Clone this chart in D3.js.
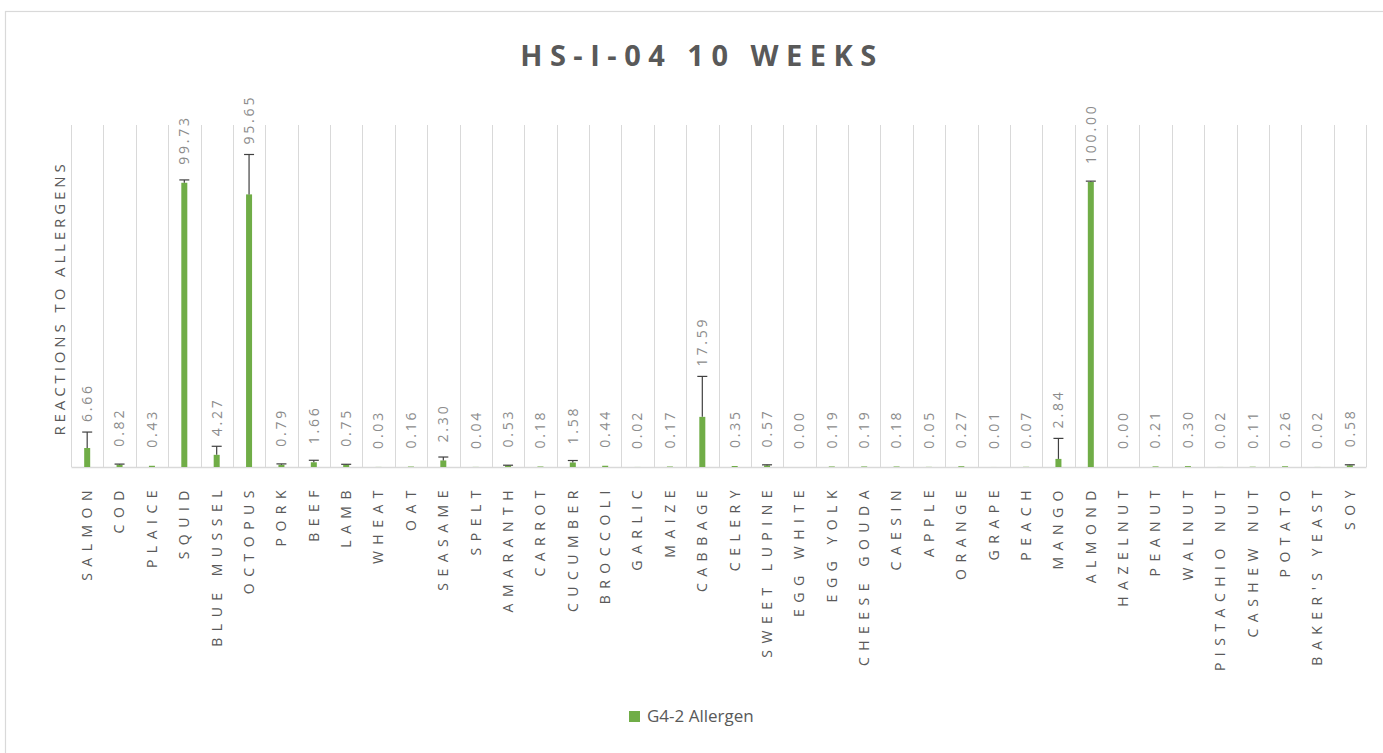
<!DOCTYPE html>
<html>
<head>
<meta charset="utf-8">
<script src="https://cdn.jsdelivr.net/npm/d3@7"></script>
<style>
  html, body { margin: 0; padding: 0; background: #ffffff; }
  svg { display: block; }
</style>
</head>
<body>
<svg id="chart" width="1383" height="753"></svg>
<script>
// ---- data ----
const categories = ["SALMON","COD","PLAICE","SQUID","BLUE MUSSEL","OCTOPUS","PORK","BEEF","LAMB","WHEAT","OAT","SEASAME","SPELT","AMARANTH","CARROT","CUCUMBER","BROCCOLI","GARLIC","MAIZE","CABBAGE","CELERY","SWEET LUPINE","EGG WHITE","EGG YOLK","CHEESE GOUDA","CAESIN","APPLE","ORANGE","GRAPE","PEACH","MANGO","ALMOND","HAZELNUT","PEANUT","WALNUT","PISTACHIO NUT","CASHEW NUT","POTATO","BAKER'S YEAST","SOY"];
const values = [6.66,0.82,0.43,99.73,4.27,95.65,0.79,1.66,0.75,0.03,0.16,2.30,0.04,0.53,0.18,1.58,0.44,0.02,0.17,17.59,0.35,0.57,0.00,0.19,0.19,0.18,0.05,0.27,0.01,0.07,2.84,100.00,0.00,0.21,0.30,0.02,0.11,0.26,0.02,0.58];
const errors = [5.6,0.2,0,1.0,3.0,14.0,0.3,0.7,0.2,0,0,1.2,0,0.1,0,0.7,0,0,0,14.2,0,0.2,0,0,0,0,0,0,0,0,7.2,0.3,0,0,0,0,0,0,0,0.2];
const seriesName = "G4-2 Allergen";
const chartTitle = "HS-I-04 10 WEEKS";
const yTitle = "REACTIONS  TO  ALLERGENS";
const yDomain = [0, 120];

// ---- layout ----
const svg = d3.select("#chart");
const W = 1383, H = 753;
const plot = { left: 71, right: 1366, top: 125, bottom: 467 };
const green = "#70ad47";
const textGray = "#595959";
const font = "'Open Sans', 'Noto Sans', sans-serif";

// frame
svg.append("rect")
  .attr("x", 5.5).attr("y", 11.5)
  .attr("width", W + 10).attr("height", H + 10)
  .attr("fill", "#fff").attr("stroke", "#d9d9d9").attr("stroke-width", 1.2);

const x = d3.scaleBand().domain(categories).range([plot.left, plot.right]).paddingInner(0).paddingOuter(0);
const y = d3.scaleLinear().domain(yDomain).range([plot.bottom, plot.top]);
const barW = 6;

// vertical gridlines at category boundaries
const bounds = categories.map(c => x(c)).concat([plot.right]);
svg.append("g").selectAll("line").data(bounds).join("line")
  .attr("x1", d => Math.round(d) + 0.5).attr("x2", d => Math.round(d) + 0.5)
  .attr("y1", plot.top).attr("y2", plot.bottom)
  .attr("stroke", "#d9d9d9").attr("stroke-width", 1);

// x axis baseline
const xAxis = d3.axisBottom(x).tickSize(0).tickFormat("");
const gx = svg.append("g").attr("transform", `translate(0,${plot.bottom})`).call(xAxis);
gx.select(".domain").attr("stroke", "#d9d9d9").attr("stroke-width", 1.5);

// bars
const data = categories.map((c, i) => ({ c, v: values[i], e: errors[i] }));
svg.append("g").selectAll("rect").data(data).join("rect")
  .attr("x", d => x(d.c) + x.bandwidth() / 2 - barW / 2)
  .attr("y", d => y(d.v))
  .attr("width", barW)
  .attr("height", d => y(0) - y(d.v))
  .attr("fill", green);

// error bars (plus direction)
const eb = svg.append("g").selectAll("g").data(data.filter(d => d.e > 0)).join("g");
eb.append("line")
  .attr("x1", d => x(d.c) + x.bandwidth() / 2).attr("x2", d => x(d.c) + x.bandwidth() / 2)
  .attr("y1", d => y(d.v)).attr("y2", d => y(d.v + d.e))
  .attr("stroke", "#404040").attr("stroke-width", 1.2);
eb.append("line")
  .attr("x1", d => x(d.c) + x.bandwidth() / 2 - 5).attr("x2", d => x(d.c) + x.bandwidth() / 2 + 5)
  .attr("y1", d => y(d.v + d.e)).attr("y2", d => y(d.v + d.e))
  .attr("stroke", "#404040").attr("stroke-width", 1.2);

// data labels (rotated)
svg.append("g").selectAll("text").data(data).join("text")
  .attr("transform", d => {
    const cx = x(d.c) + x.bandwidth() / 2;
    const yb = Math.min(y(d.v) - 18, y(d.v + d.e) - 10);
    return `translate(${cx},${yb}) rotate(-90)`;
  })
  .attr("dy", "0.35em")
  .attr("text-anchor", "start")
  .attr("font-family", font)
  .attr("font-size", 14)
  .attr("letter-spacing", "2.8px")
  .attr("fill", "#8c8c8c")
  .text(d => d.v.toFixed(2));

// category labels
svg.append("g").selectAll("text").data(categories).join("text")
  .attr("transform", c => `translate(${x(c) + x.bandwidth() / 2},${plot.bottom + 17}) rotate(-90)`)
  .attr("dy", "0.35em")
  .attr("text-anchor", "end")
  .attr("font-family", font)
  .attr("font-size", 14)
  .attr("letter-spacing", "6.5px")
  .attr("fill", textGray)
  .text(c => c);

// y title
svg.append("text")
  .attr("transform", `translate(60,${(plot.top + plot.bottom) / 2 + 2}) rotate(-90)`)
  .attr("dy", "0.35em")
  .attr("text-anchor", "middle")
  .attr("font-family", font)
  .attr("font-size", 15)
  .attr("letter-spacing", "3.9px")
  .attr("fill", textGray)
  .text(yTitle);

// chart title
svg.append("text")
  .attr("x", 702).attr("y", 66)
  .attr("text-anchor", "middle")
  .attr("font-family", font)
  .attr("font-weight", "bold")
  .attr("font-size", 29)
  .attr("letter-spacing", "7.5px")
  .attr("fill", textGray)
  .text(chartTitle);

// legend
const lg = svg.append("g").attr("transform", "translate(629,711)");
lg.append("rect").attr("x", 0).attr("y", 0).attr("width", 11).attr("height", 11).attr("fill", green);
lg.append("text").attr("x", 18).attr("y", 5.5).attr("dy", "0.35em")
  .attr("font-family", font).attr("font-size", 17).attr("fill", textGray)
  .text(seriesName);
</script>
</body>
</html>
